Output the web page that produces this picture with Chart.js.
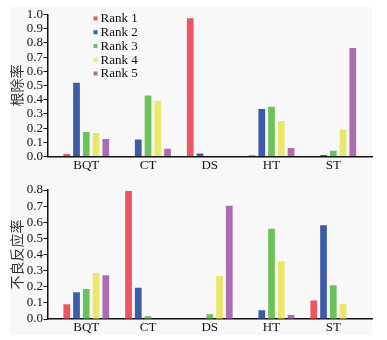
<!DOCTYPE html>
<html><head><meta charset="utf-8">
<script src="https://cdn.jsdelivr.net/npm/chart.js@4.4.0/dist/chart.umd.min.js"></script>
<style>
html,body{margin:0;padding:0;background:#fff;}
#wrap{position:relative;width:387px;height:340px;overflow:hidden;}
#bg{position:absolute;left:10px;top:7px;width:362px;height:328px;background:#f8f8f8;}
canvas{position:absolute;left:0;}
#c1{top:0;}
#c2{top:170px;}
</style></head><body>
<div id="wrap"><div id="bg"></div>
<canvas id="c1" width="387" height="180"></canvas>
<canvas id="c2" width="387" height="170"></canvas>
</div>
<script>
const categories = ['BQT', 'CT', 'DS', 'HT', 'ST'];
const seriesNames = ['Rank 1', 'Rank 2', 'Rank 3', 'Rank 4', 'Rank 5'];
const seriesColors = ['#ef5560', '#3d5ba9', '#6dc25a', '#e9e86a', '#ab6cb0'];

// 根除率 (top panel)
const eradRank1 = [0.018, 0.000, 0.973, 0.008, 0.000];
const eradRank2 = [0.520, 0.120, 0.022, 0.334, 0.010];
const eradRank3 = [0.173, 0.430, 0.000, 0.350, 0.040];
const eradRank4 = [0.165, 0.393, 0.000, 0.250, 0.190];
const eradRank5 = [0.123, 0.055, 0.000, 0.060, 0.764];

// 不良反应率 (bottom panel)
const adrRank1 = [0.091, 0.794, 0.000, 0.000, 0.114];
const adrRank2 = [0.166, 0.194, 0.000, 0.054, 0.581];
const adrRank3 = [0.186, 0.017, 0.029, 0.560, 0.209];
const adrRank4 = [0.285, 0.000, 0.267, 0.358, 0.095];
const adrRank5 = [0.271, 0.000, 0.703, 0.025, 0.000];

const topTitle = '根除率';
const bottomTitle = '不良反应率';
const topMax = 1.0;
const bottomMax = 0.8;
const yStep = 0.1;

const serif = '"Liberation Serif", "Times New Roman", serif';

const innerLegend = {
  id: 'innerLegend',
  afterDatasetsDraw(chart, args, opts) {
    if (!opts.show) return;
    const ctx = chart.ctx;
    ctx.save();
    ctx.font = '13px ' + serif;
    ctx.textBaseline = 'middle';
    ctx.textAlign = 'left';
    chart.data.datasets.forEach((ds, i) => {
      const y = opts.y + i * opts.step;
      ctx.fillStyle = ds.backgroundColor;
      ctx.fillRect(opts.x, y - 2, 4, 4);
      ctx.fillStyle = '#111';
      ctx.fillText(ds.label, opts.x + 7, y + 0.5);
    });
    ctx.restore();
  }
};

function makeChart(id, seriesArrays, yMax, yTitle, padTop, xAxisHeight, showLegend) {
  const datasets = seriesArrays.map((arr, s) => ({
    label: seriesNames[s],
    data: arr.map((v, i) => ({ x: i, y: v })),
    backgroundColor: seriesColors[s],
    borderWidth: 0,
    categoryPercentage: 0.79,
    barPercentage: 0.69
  }));
  return new Chart(document.getElementById(id), {
    type: 'bar',
    data: { datasets },
    plugins: [innerLegend],
    options: {
      responsive: false,
      animation: false,
      devicePixelRatio: 1,
      layout: { padding: { top: padTop, right: 15, left: 0, bottom: 0 } },
      plugins: {
        legend: { display: false },
        tooltip: { enabled: false },
        innerLegend: { show: showLegend, x: 93.5, y: 18.5, step: 13.75 }
      },
      scales: {
        x: {
          type: 'linear',
          offset: false,
          min: -0.628,
          max: 4.627,
          afterBuildTicks: (sc) => { sc.ticks = categories.map((c, i) => ({ value: i })); },
          afterFit: (sc) => { sc.height = xAxisHeight; },
          ticks: {
            autoSkip: false,
            maxRotation: 0,
            padding: 1,
            color: '#111',
            font: { family: serif, size: 13 },
            callback: (v) => categories[v]
          },
          grid: { display: true, offset: false, drawOnChartArea: false, drawTicks: false, color: 'rgba(0,0,0,0)' },
          border: { display: true, color: '#111', width: 1.5 }
        },
        y: {
          min: 0,
          max: yMax,
          afterFit: (sc) => { sc.width = 47.5; },
          ticks: {
            stepSize: yStep,
            autoSkip: false,
            padding: 0.5,
            color: '#111',
            font: { family: serif, size: 13 },
            callback: (v) => Number(v).toFixed(1)
          },
          grid: { display: true, drawOnChartArea: false, drawTicks: true, tickLength: 4, color: '#111', lineWidth: 1 },
          border: { display: true, color: '#111', width: 1.5 },
          title: {
            display: true,
            text: yTitle,
            color: '#333',
            padding: { top: 8, bottom: 0 },
            font: { family: '"Noto Sans CJK SC", sans-serif', size: 14 }
          }
        }
      }
    }
  });
}

makeChart('c1', [eradRank1, eradRank2, eradRank3, eradRank4, eradRank5], topMax, topTitle, 14.5, 23.5, true);
makeChart('c2', [adrRank1, adrRank2, adrRank3, adrRank4, adrRank5], bottomMax, bottomTitle, 20, 21, false);
</script>
</body></html>
